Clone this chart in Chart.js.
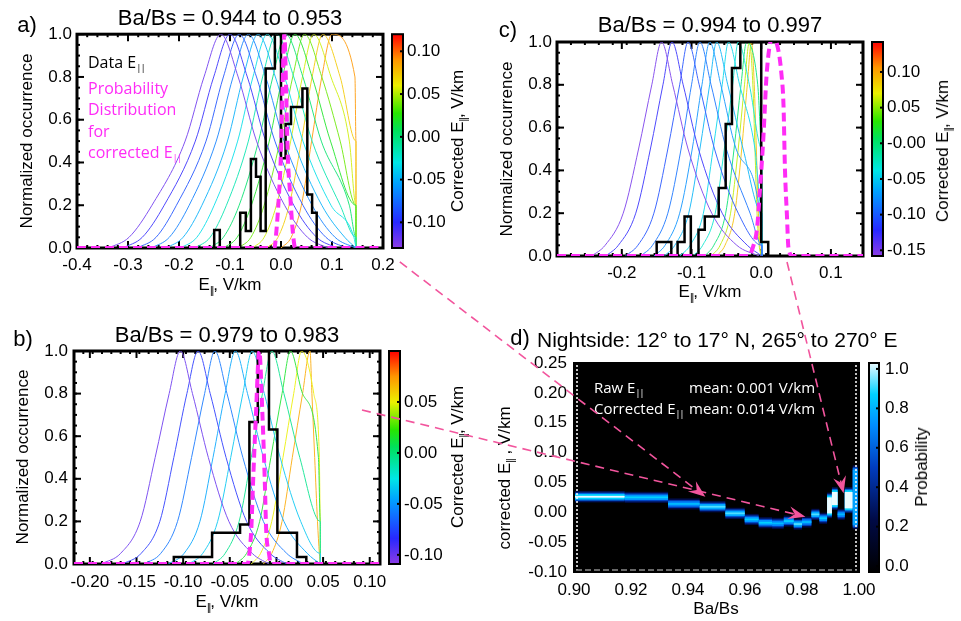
<!DOCTYPE html>
<html>
<head>
<meta charset="utf-8">
<script src="https://cdn.jsdelivr.net/npm/chart.js@4"></script>
<style>
body { margin: 0; background: #fff; }
#fig { position: relative; width: 961px; height: 621px; overflow: hidden; font-family: "Liberation Sans", Arial, sans-serif; color: #000; }
canvas { position: absolute; }
.t { position: absolute; white-space: nowrap; transform: translate(-50%, -50%); font-size: 17px; }
.rot { transform: translate(-50%, -50%) rotate(-90deg); }
.big { font-size: 22px; }
.lbl { position: absolute; white-space: nowrap; font-family: "Open Sans", sans-serif; font-size: 16px; transform: translateY(-50%); }
.pk { color: #ff2cf6; }
.wt { color: #fff; font-size: 15px; }
sub { font-size: 60%; vertical-align: -0.35em; line-height: 0; letter-spacing: -1px; }
svg { position: absolute; left: 0; top: 0; }
</style>
</head>
<body>
<div id="fig">
  <canvas id="ca" width="450" height="300" style="left:0px;top:0px"></canvas>
  <canvas id="cb" width="450" height="311" style="left:0px;top:310px"></canvas>
  <canvas id="cc" width="481" height="300" style="left:480px;top:0px"></canvas>
  <canvas id="cd" width="481" height="311" style="left:480px;top:310px"></canvas>

  <div class="t big" style="left:27px;top:25px">a)</div>
  <div class="t big" style="left:230px;top:18px">Ba/Bs = 0.944 to 0.953</div>
  <div class="t rot" style="left:27px;top:141px">Normalized occurrence</div>
  <div class="t" style="left:230px;top:285px">E<sub>||</sub>, V/km</div>
  <div class="t rot" style="left:458px;top:141px">Corrected E<sub>||</sub>, V/km</div>
  <div class="lbl" style="left:88px;top:62px">Data E<sub>||</sub></div>
  <div class="lbl pk" style="left:88px;top:88px">Probability</div>
  <div class="lbl pk" style="left:88px;top:109px">Distribution</div>
  <div class="lbl pk" style="left:88px;top:131px">for</div>
  <div class="lbl pk" style="left:88px;top:152px">corrected E<sub>||</sub></div>

  <div class="t big" style="left:23px;top:339px">b)</div>
  <div class="t big" style="left:227px;top:335px">Ba/Bs = 0.979 to 0.983</div>
  <div class="t rot" style="left:23px;top:457px">Normalized occurrence</div>
  <div class="t" style="left:227px;top:602px">E<sub>||</sub>, V/km</div>
  <div class="t rot" style="left:458px;top:457px">Corrected E<sub>||</sub>, V/km</div>

  <div class="t big" style="left:508px;top:30px">c)</div>
  <div class="t big" style="left:710px;top:25px">Ba/Bs = 0.994 to 0.997</div>
  <div class="t rot" style="left:507px;top:149px">Normalized occurrence</div>
  <div class="t" style="left:710px;top:292px">E<sub>||</sub>, V/km</div>
  <div class="t rot" style="left:943px;top:151px">Corrected E<sub>||</sub>, V/km</div>

  <div class="t big" style="left:520px;top:338px">d)</div>
  <div class="t" style="left:537px;top:340px;font-size:21px;transform:translateY(-50%)">Nightside: 12° to 17° N, 265° to 270° E</div>
  <div class="t rot" style="left:505px;top:478px">corrected E<sub>||</sub> , V/km</div>
  <div class="t" style="left:716px;top:609px">Ba/Bs</div>
  <div class="t rot" style="left:922px;top:467px">Probability</div>
  <div class="lbl wt" style="left:594px;top:387px">Raw E<sub>||</sub></div>
  <div class="lbl wt" style="left:594px;top:408px">Corrected E<sub>||</sub></div>
  <div class="lbl wt" style="left:689px;top:387px">mean: 0.001 V/km</div>
  <div class="lbl wt" style="left:689px;top:408px">mean: 0.014 V/km</div>
</div>

<script>
// normalized occurrence levels shared by every model curve (left foot -> peak -> right foot)
const levels = [0, 0.05, 0.2, 0.5, 0.8, 1, 0.8, 0.5, 0.2, 0.05, 0];

// ---- panel a : Ba/Bs = 0.944 to 0.953
const aCurveX = [
  [-0.338, -0.298, -0.253, -0.188, -0.151, -0.118, -0.084, -0.048, 0.007, 0.052, 0.092],
  [-0.310, -0.272, -0.229, -0.168, -0.132, -0.100, -0.066, -0.030, 0.025, 0.070, 0.110],
  [-0.282, -0.245, -0.205, -0.147, -0.113, -0.082, -0.048, -0.012, 0.043, 0.088, 0.128],
  [-0.254, -0.219, -0.180, -0.127, -0.094, -0.064, -0.030, 0.006, 0.061, 0.106, 0.146],
  [-0.225, -0.192, -0.155, -0.105, -0.074, -0.045, -0.011, 0.025, 0.080, 0.125, 0.147],
  [-0.197, -0.165, -0.131, -0.085, -0.055, -0.027, 0.007, 0.043, 0.098, 0.143, 0.147],
  [-0.169, -0.139, -0.107, -0.064, -0.036, -0.009, 0.025, 0.061, 0.116, 0.147, 0.147],
  [-0.141, -0.113, -0.082, -0.044, -0.016, 0.009, 0.043, 0.079, 0.134, 0.147, 0.147],
  [-0.113, -0.086, -0.058, -0.023, 0.003, 0.027, 0.061, 0.097, 0.147, 0.147, 0.147],
  [-0.084, -0.059, -0.033, -0.002, 0.023, 0.046, 0.080, 0.116, 0.147, 0.147, 0.147],
  [-0.056, -0.033, -0.009, 0.019, 0.042, 0.064, 0.098, 0.134, 0.147, 0.147, 0.147],
  [-0.028, -0.006, 0.016, 0.040, 0.061, 0.082, 0.116, 0.147, 0.147, 0.147, 0.147],
  [0.000, 0.020, 0.040, 0.060, 0.080, 0.100, 0.145, 0.147, 0.147, 0.147, 0.147]
];
const aCurveE = [-0.120, -0.103, -0.085, -0.068, -0.050, -0.033, -0.015, 0.003, 0.020, 0.038, 0.055, 0.073, 0.090];
const aHistEdges = [-0.131, -0.120, -0.080, -0.069, -0.059, -0.049, -0.040, -0.030, -0.012, 0.000, 0.009, 0.0196, 0.042, 0.0516, 0.061, 0.070];
const aHistVals = [0.084, 0, 0.165, 0.08, 0.416, 0.333, 0.08, 0.84, 1.0, 0.42, 0.58, 0.66, 0.746, 0.25, 0.165];
const aProbX = [-0.40, -0.013, -0.009, -0.004, 0.000, 0.003, 0.0065, 0.010, 0.013, 0.018, 0.023, 0.028, 0.20];
const aProbY = [0, 0, 0.08, 0.25, 0.45, 0.75, 1.0, 0.75, 0.45, 0.25, 0.08, 0, 0];
const aXTicks = [-0.4, -0.3, -0.2, -0.1, 0, 0.1, 0.2];
const aXLabels = ['-0.4', '-0.3', '-0.2', '-0.1', '0.0', '0.1', '0.2'];
const aCbTicks = [-0.10, -0.05, 0, 0.05, 0.10];
const aCbLabels = ['-0.10', '-0.05', '0.00', '0.05', '0.10'];

// ---- panel b : Ba/Bs = 0.979 to 0.983
const bCurveX = [
  [-0.188, -0.167, -0.146, -0.130, -0.115, -0.103, -0.090, -0.073, -0.051, -0.026, -0.008],
  [-0.165, -0.145, -0.125, -0.110, -0.096, -0.084, -0.071, -0.054, -0.032, -0.007, 0.011],
  [-0.142, -0.124, -0.106, -0.091, -0.077, -0.066, -0.053, -0.036, -0.014, 0.011, 0.029],
  [-0.116, -0.099, -0.082, -0.068, -0.055, -0.044, -0.031, -0.014, 0.008, 0.033, 0.047],
  [-0.094, -0.079, -0.063, -0.049, -0.036, -0.026, -0.013, 0.004, 0.026, 0.047, 0.047],
  [-0.068, -0.055, -0.040, -0.027, -0.015, -0.005, 0.008, 0.025, 0.047, 0.047, 0.047],
  [-0.044, -0.032, -0.018, -0.006, 0.006, 0.015, 0.028, 0.045, 0.047, 0.047, 0.047],
  [-0.027, -0.017, -0.005, 0.007, 0.0185, 0.027, 0.040, 0.046, 0.047, 0.047, 0.047],
  [-0.014, -0.005, 0.006, 0.017, 0.028, 0.036, 0.038, 0.041, 0.044, 0.046, 0.047]
];
const bCurveE = [-0.100, -0.080, -0.060, -0.045, -0.035, -0.005, 0.015, 0.050, 0.070];
const bHistEdges = [-0.110, -0.069, -0.039, -0.029, -0.020, -0.008, 0.001, 0.022, 0.032];
const bHistVals = [0.033, 0.147, 0.185, 0.667, 1.0, 0.632, 0.147, 0.033];
const bProbX = [-0.217, -0.031, -0.029, -0.027, -0.025, -0.022, -0.0184, -0.015, -0.0125, -0.011, -0.008, -0.006, 0.111];
const bProbY = [0, 0, 0.05, 0.16, 0.39, 0.7, 1.0, 0.7, 0.39, 0.16, 0.05, 0, 0];
const bXTicks = [-0.20, -0.15, -0.10, -0.05, 0, 0.05, 0.10];
const bXLabels = ['-0.20', '-0.15', '-0.10', '-0.05', '0.00', '0.05', '0.10'];
const bCbTicks = [-0.10, -0.05, 0, 0.05];
const bCbLabels = ['-0.10', '-0.05', '0.00', '0.05'];

// ---- panel c : Ba/Bs = 0.994 to 0.997
const cCurveX = [
  [-0.243, -0.224, -0.198, -0.176, -0.157, -0.143, -0.127, -0.105, -0.071, -0.035, -0.003],
  [-0.223, -0.205, -0.180, -0.159, -0.141, -0.128, -0.112, -0.090, -0.056, -0.020, 0.001],
  [-0.195, -0.177, -0.154, -0.134, -0.117, -0.105, -0.089, -0.067, -0.033, 0.001, 0.001],
  [-0.173, -0.156, -0.134, -0.115, -0.100, -0.088, -0.072, -0.050, -0.016, 0.001, 0.001],
  [-0.154, -0.138, -0.117, -0.099, -0.085, -0.074, -0.058, -0.036, -0.002, 0.001, 0.001],
  [-0.139, -0.124, -0.104, -0.088, -0.074, -0.064, -0.048, -0.026, 0.001, 0.001, 0.001],
  [-0.117, -0.102, -0.083, -0.069, -0.056, -0.047, -0.031, -0.009, 0.001, 0.001, 0.001],
  [-0.098, -0.084, -0.066, -0.053, -0.041, -0.033, -0.017, 0.001, 0.001, 0.001, 0.001],
  [-0.081, -0.068, -0.051, -0.039, -0.029, -0.021, -0.005, 0.001, 0.001, 0.001, 0.001],
  [-0.072, -0.059, -0.044, -0.033, -0.024, -0.017, -0.012, -0.009, -0.006, -0.003, 0.000],
  [-0.064, -0.052, -0.038, -0.028, -0.020, -0.014, -0.010, -0.007, -0.004, -0.002, 0.000]
];
const cCurveE = [-0.150, -0.125, -0.105, -0.090, -0.075, -0.060, -0.045, -0.030, 0.000, 0.060, 0.090];
const cHistEdges = [-0.150, -0.129, -0.120, -0.110, -0.101, -0.090, -0.081, -0.061, -0.051, -0.042, -0.030, 0.000, 0.010];
const cHistVals = [0.065, 0, 0.065, 0.185, 0, 0.123, 0.185, 0.318, 0.617, 0.879, 1.0, 0.065];
const cProbX = [-0.293, -0.018, -0.012, -0.006, -0.002, 0.003, 0.008, 0.016, 0.024, 0.029, 0.032, 0.034, 0.037, 0.039, 0.045, 0.146];
const cProbY = [0, 0, 0.04, 0.13, 0.3, 0.55, 0.86, 1.02, 0.97, 0.85, 0.7, 0.41, 0.18, 0.04, 0, 0];
const cXTicks = [-0.2, -0.1, 0, 0.1];
const cXLabels = ['-0.2', '-0.1', '0.0', '0.1'];
const cCbTicks = [-0.15, -0.10, -0.05, 0, 0.05, 0.10];
const cCbLabels = ['-0.15', '-0.10', '-0.05', '-0.00', '0.05', '0.10'];

const yTicks = [0, 0.2, 0.4, 0.6, 0.8, 1.0];
const yLabels = ['0.0', '0.2', '0.4', '0.6', '0.8', '1.0'];

// ---- panel d : probability of corrected E|| per Ba/Bs bin
const dX0 = [0.900, 0.9178, 0.933, 0.9441, 0.9531, 0.9599, 0.9648, 0.9695, 0.9736, 0.9771, 0.980, 0.9833, 0.9861, 0.9888, 0.9905, 0.9925, 0.995, 0.9978];
const dX1 = [0.9178, 0.933, 0.9441, 0.9531, 0.9599, 0.9648, 0.9695, 0.9736, 0.9771, 0.980, 0.9833, 0.9861, 0.9888, 0.9905, 0.9925, 0.995, 0.9978, 0.9995];
const dLo = [0.0245, 0.0235, 0.0125, 0.0078, -0.0033, -0.0135, -0.019, -0.0201, -0.0162, -0.0212, -0.0178, -0.005, -0.0115, -0.002, 0.012, -0.005, 0.0065, -0.021];
const dHi = [0.0275, 0.0265, 0.0155, 0.0108, -0.0003, -0.0105, -0.016, -0.0171, -0.0132, -0.0182, -0.0148, -0.002, -0.0085, 0.025, 0.034, -0.002, 0.034, 0.071];
const dPeak = [1.0, 0.85, 0.8, 0.9, 0.9, 0.85, 0.85, 0.8, 0.85, 0.9, 0.8, 0.9, 0.85, 1.0, 1.0, 0.8, 1.0, 0.75];
const dXTicks = [0.90, 0.92, 0.94, 0.96, 0.98, 1.00];
const dXLabels = ['0.90', '0.92', '0.94', '0.96', '0.98', '1.00'];
const dYTicks = [-0.10, -0.05, 0, 0.05, 0.10, 0.15, 0.20, 0.25];
const dYLabels = ['-0.10', '-0.05', '0.00', '0.05', '0.10', '0.15', '0.20', '0.25'];
const dCbTicks = [0, 0.2, 0.4, 0.6, 0.8, 1.0];
const dCbLabels = ['0.0', '0.2', '0.4', '0.6', '0.8', '1.0'];

const rainbowStops = [[0, [140, 60, 230]], [0.12, [40, 40, 255]], [0.30, [0, 160, 255]], [0.40, [0, 230, 230]],
  [0.55, [0, 225, 90]], [0.63, [40, 230, 0]], [0.76, [235, 240, 0]], [0.88, [255, 150, 0]], [1, [255, 0, 0]]];
const probStops = [[0, [0, 0, 0]], [0.25, [0, 10, 70]], [0.5, [0, 60, 190]], [0.7, [0, 140, 255]], [0.85, [0, 210, 255]], [1, [235, 250, 255]]];

function cmap(stops, t, fade) {
  t = Math.max(0, Math.min(1, t));
  fade = fade || 0;
  for (let i = 1; i < stops.length; i++) {
    if (t <= stops[i][0] || i === stops.length - 1) {
      const [t0, c0] = stops[i - 1], [t1, c1] = stops[i];
      const f = Math.min(1, (t - t0) / (t1 - t0));
      return 'rgb(' + c0.map((c, k) => {
        const v = c + (c1[k] - c) * f;
        return Math.round(v + (255 - v) * fade);
      }).join(',') + ')';
    }
  }
}

const tickFont = { family: 'Liberation Sans', size: 17 };

function axis(min, max, ticks, labels, pad, fit, extra) {
  return Object.assign({
    type: 'linear', min: min, max: max,
    afterBuildTicks: s => { s.ticks = ticks.map(v => ({ value: v })); },
    afterFit: fit,
    grid: { display: false, drawTicks: false },
    border: { display: false },
    ticks: { autoSkip: false, maxRotation: 0, padding: pad, color: '#000', font: tickFont,
      callback: (v, i) => labels[i] }
  }, extra || {});
}

// IDL style box with inward ticks
function framePlugin(minorX, minorY) {
  return {
    id: 'frame',
    beforeDatasetsDraw(chart) {
      const { ctx, chartArea: a, scales: { x, y } } = chart;
      ctx.save();
      ctx.strokeStyle = '#000';
      ctx.lineWidth = 3;
      ctx.strokeRect(a.left, a.top, a.right - a.left, a.bottom - a.top);
      ctx.lineWidth = 2;
      const tk = (x1, y1, x2, y2) => { ctx.beginPath(); ctx.moveTo(x1, y1); ctx.lineTo(x2, y2); ctx.stroke(); };
      for (let v = x.min; v <= x.max + 1e-9; v += minorX) {
        const p = x.getPixelForValue(v);
        tk(p, a.bottom, p, a.bottom - 3); tk(p, a.top, p, a.top + 3);
      }
      for (let v = y.min; v <= y.max + 1e-9; v += minorY) {
        const p = y.getPixelForValue(v);
        tk(a.left, p, a.left + 3, p); tk(a.right, p, a.right - 3, p);
      }
      x.ticks.forEach(t => { const p = x.getPixelForValue(t.value); tk(p, a.bottom, p, a.bottom - 7); tk(p, a.top, p, a.top + 7); });
      y.ticks.forEach(t => { const p = y.getPixelForValue(t.value); tk(a.left, p, a.left + 7, p); tk(a.right, p, a.right - 7, p); });
      ctx.restore();
    }
  };
}

function colorbarPlugin(stops, gap, w) {
  return {
    id: 'colorbar',
    afterDraw(chart) {
      const { ctx, chartArea: a } = chart;
      const cb = chart.scales.cb;
      const x0 = a.right + gap;
      const yTop = cb.getPixelForValue(cb.max), yBot = cb.getPixelForValue(cb.min);
      const g = ctx.createLinearGradient(0, yBot, 0, yTop);
      stops.forEach(s => g.addColorStop(s[0], 'rgb(' + s[1].join(',') + ')'));
      ctx.save();
      ctx.fillStyle = g;
      ctx.fillRect(x0, yTop, w, yBot - yTop);
      ctx.strokeStyle = '#000';
      ctx.lineWidth = 2;
      ctx.strokeRect(x0, yTop, w, yBot - yTop);
      cb.ticks.forEach(t => {
        const p = cb.getPixelForValue(t.value);
        ctx.beginPath(); ctx.moveTo(x0 + w, p); ctx.lineTo(x0 + w - 3, p); ctx.stroke();
      });
      ctx.restore();
    }
  };
}

function histPoints(edges, vals) {
  const pts = [{ x: edges[0], y: 0 }];
  vals.forEach((v, i) => pts.push({ x: edges[i], y: v }));
  pts.push({ x: edges[edges.length - 1], y: 0 });
  return pts;
}

function distChart(id, P) {
  const ds = [];
  ds.push({ data: P.probX.map((x, i) => ({ x: x, y: P.probY[i] })), borderColor: '#ff2cf6', borderWidth: 4,
    borderDash: [9, 5], tension: 0.4, cubicInterpolationMode: 'monotone', order: 0 });
  ds.push({ data: histPoints(P.edges, P.vals), borderColor: '#000', borderWidth: 2.5, stepped: true, order: 1 });
  P.curveX.forEach((xs, k) => {
    const t = (P.curveE[k] - P.cbMin) / (P.cbMax - P.cbMin);
    ds.push({ data: xs.map((x, i) => ({ x: x, y: levels[i] })), borderColor: cmap(rainbowStops, t, 0.15),
      borderWidth: 1, tension: 0.4, cubicInterpolationMode: 'monotone', order: 2 });
  });
  const B = P.box;
  return new Chart(document.getElementById(id), {
    type: 'line',
    data: { datasets: ds },
    options: {
      responsive: false, animation: false, events: [],
      elements: { point: { radius: 0 } },
      layout: { padding: { top: B.top, left: 0, right: 0, bottom: 0 } },
      plugins: { legend: { display: false }, tooltip: { enabled: false } },
      scales: {
        x: axis(P.xMin, P.xMax, P.xTicks, P.xLabels, B.xPad, s => { s.height = B.xH; }),
        y: axis(0, 1, yTicks, yLabels, B.yPad, s => { s.width = B.yW; }),
        cb: axis(P.cbMin, P.cbMax, P.cbTicks, P.cbLabels, B.cbPad, s => { s.width = B.cbW; }, { position: 'right' })
      }
    },
    plugins: [framePlugin(P.minorX, 0.05), colorbarPlugin(rainbowStops, 9, 11)]
  });
}

const chartA = distChart('ca', {
  curveX: aCurveX, curveE: aCurveE, edges: aHistEdges, vals: aHistVals, probX: aProbX, probY: aProbY,
  xMin: -0.4, xMax: 0.2, xTicks: aXTicks, xLabels: aXLabels, minorX: 0.02,
  cbMin: -0.13, cbMax: 0.12, cbTicks: aCbTicks, cbLabels: aCbLabels,
  box: { top: 34, yW: 77, xH: 52, cbW: 67, xPad: 7, yPad: 5, cbPad: 24 }
});
const chartB = distChart('cb', {
  curveX: bCurveX, curveE: bCurveE, edges: bHistEdges, vals: bHistVals, probX: bProbX, probY: bProbY,
  xMin: -0.217, xMax: 0.111, xTicks: bXTicks, xLabels: bXLabels, minorX: 0.01,
  cbMin: -0.109, cbMax: 0.10, cbTicks: bCbTicks, cbLabels: bCbLabels,
  box: { top: 41, yW: 74, xH: 57, cbW: 70, xPad: 8, yPad: 6, cbPad: 24 }
});
const chartC = distChart('cc', {
  curveX: cCurveX, curveE: cCurveE, edges: cHistEdges, vals: cHistVals, probX: cProbX, probY: cProbY,
  xMin: -0.293, xMax: 0.146, xTicks: cXTicks, xLabels: cXLabels, minorX: 0.02,
  cbMin: -0.158, cbMax: 0.142, cbTicks: cCbTicks, cbLabels: cCbLabels,
  box: { top: 42, yW: 77, xH: 44, cbW: 98, xPad: 7, yPad: 5, cbPad: 24 }
});

// heat map cells of panel d, soft edges drawn as nested bands
const heatPlugin = {
  id: 'heat',
  beforeDatasetsDraw(chart) {
    const { ctx, chartArea: a, scales: { x, y } } = chart;
    ctx.save();
    ctx.fillStyle = '#000';
    ctx.fillRect(a.left, a.top, a.right - a.left, a.bottom - a.top);
    ctx.beginPath(); ctx.rect(a.left, a.top, a.right - a.left, a.bottom - a.top); ctx.clip();
    const glow = [[0.0078, 0.3], [0.0052, 0.6], [0.003, 0.85], [0, 1]];
    glow.forEach(([pad, f]) => {
      dX0.forEach((x0, i) => {
        const p0 = x.getPixelForValue(x0), p1 = x.getPixelForValue(dX1[i]);
        const top = y.getPixelForValue(dHi[i] + pad), bot = y.getPixelForValue(dLo[i] - pad);
        ctx.fillStyle = cmap(probStops, dPeak[i] * f);
        ctx.fillRect(p0, top, p1 - p0, bot - top);
      });
    });
    ctx.restore();
    ctx.save();
    ctx.strokeStyle = '#000'; ctx.lineWidth = 2;
    ctx.strokeRect(a.left, a.top, a.right - a.left, a.bottom - a.top);
    ctx.strokeStyle = '#fff'; ctx.lineWidth = 1.5; ctx.setLineDash([2, 2]);
    [a.left + 3, a.right - 3].forEach(px => { ctx.beginPath(); ctx.moveTo(px, a.top + 2); ctx.lineTo(px, a.bottom - 2); ctx.stroke(); });
    ctx.strokeStyle = '#8a8a8a'; ctx.setLineDash([6, 3]);
    ctx.beginPath(); ctx.moveTo(a.left + 2, a.bottom - 2); ctx.lineTo(a.right - 2, a.bottom - 2); ctx.stroke();
    ctx.restore();
  }
};

const chartD = new Chart(document.getElementById('cd'), {
  type: 'line',
  data: { datasets: [{ data: [] }] },
  options: {
    responsive: false, animation: false, events: [],
    layout: { padding: { top: 53, left: 0, right: 0, bottom: 0 } },
    plugins: { legend: { display: false }, tooltip: { enabled: false } },
    scales: {
      x: axis(0.90, 1.00, dXTicks, dXLabels, 8, s => { s.height = 49; }),
      y: axis(-0.10, 0.25, dYTicks, dYLabels, 7, s => { s.width = 94; }),
      cb: axis(-0.03, 1.03, dCbTicks, dCbLabels, 26, s => { s.width = 102; }, { position: 'right' })
    }
  },
  plugins: [heatPlugin, colorbarPlugin(probStops, 10, 10)]
});

// dashed pointers from the panels into panel d
const arrowFrom = [[chartA, 0.233, -0.065], [chartB, 0.0917, 0.723], [chartC, 0.037, -0.028]];
const arrowTo = [[0.9461, 0.026], [0.9812, -0.0074], [0.9946, 0.0317]];

function pagePt(chart, vx, vy) {
  return [chart.canvas.offsetLeft + chart.scales.x.getPixelForValue(vx),
          chart.canvas.offsetTop + chart.scales.y.getPixelForValue(vy)];
}

const NS = 'http://www.w3.org/2000/svg';
const svg = document.createElementNS(NS, 'svg');
svg.setAttribute('width', 961); svg.setAttribute('height', 621);
arrowFrom.forEach((f, i) => {
  const [x1, y1] = pagePt(f[0], f[1], f[2]);
  const [x2, y2] = pagePt(chartD, arrowTo[i][0], arrowTo[i][1]);
  const ang = Math.atan2(y2 - y1, x2 - x1);
  const c = Math.cos(ang), s = Math.sin(ang);
  const line = document.createElementNS(NS, 'line');
  line.setAttribute('x1', x1); line.setAttribute('y1', y1);
  line.setAttribute('x2', x2 - 10 * c); line.setAttribute('y2', y2 - 10 * s);
  line.setAttribute('stroke', '#f2559d'); line.setAttribute('stroke-width', 1.6);
  line.setAttribute('stroke-dasharray', '9 6');
  svg.appendChild(line);
  const pts = [[x2, y2], [x2 - 17 * c + 6.5 * s, y2 - 17 * s - 6.5 * c], [x2 - 11 * c, y2 - 11 * s], [x2 - 17 * c - 6.5 * s, y2 - 17 * s + 6.5 * c]];
  const head = document.createElementNS(NS, 'polygon');
  head.setAttribute('points', pts.map(p => p.join(',')).join(' '));
  head.setAttribute('fill', '#f2559d');
  svg.appendChild(head);
});
document.getElementById('fig').appendChild(svg);
</script>
</body>
</html>
